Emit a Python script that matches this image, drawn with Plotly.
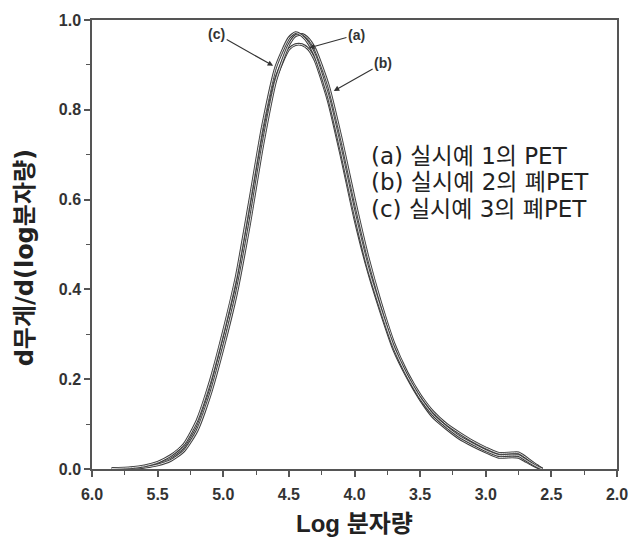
import plotly.graph_objects as go

# Log molecular weight grid
log_mw = [5.85, 5.7, 5.6, 5.5, 5.4, 5.3, 5.2, 5.1, 5.0, 4.9, 4.8, 4.7, 4.6, 4.5,
          4.45, 4.4, 4.35, 4.3, 4.2, 4.1, 4.0, 3.9, 3.8, 3.7, 3.6, 3.5, 3.4, 3.3,
          3.2, 3.1, 3.0, 2.9, 2.8, 2.75, 2.7, 2.65, 2.6, 2.57]

curve_a = [0.0, 0.002, 0.005, 0.011, 0.022, 0.044, 0.092, 0.175, 0.285, 0.405, 0.565,
           0.735, 0.87, 0.935, 0.945, 0.945, 0.935, 0.91, 0.82, 0.695, 0.56, 0.445,
           0.35, 0.265, 0.205, 0.155, 0.115, 0.09, 0.068, 0.052, 0.038, 0.026, 0.027,
           0.026, 0.018, 0.01, 0.003, 0.0]

curve_b = [0.0, 0.001, 0.004, 0.009, 0.019, 0.04, 0.085, 0.165, 0.27, 0.39, 0.545,
           0.72, 0.865, 0.945, 0.965, 0.968, 0.958, 0.935, 0.855, 0.735, 0.6, 0.475,
           0.37, 0.28, 0.215, 0.165, 0.127, 0.1, 0.08, 0.062, 0.047, 0.035, 0.036,
           0.036, 0.027, 0.016, 0.006, 0.0]

curve_c = [0.001, 0.003, 0.007, 0.015, 0.03, 0.055, 0.108, 0.195, 0.305, 0.43, 0.595,
           0.765, 0.895, 0.96, 0.972, 0.965, 0.948, 0.92, 0.83, 0.705, 0.57, 0.45,
           0.355, 0.27, 0.208, 0.158, 0.12, 0.094, 0.072, 0.056, 0.041, 0.03, 0.031,
           0.03, 0.021, 0.012, 0.004, 0.0]

legend_lines = ["(a) 실시예 1의 PET", "(b) 실시예 2의 폐PET", "(c) 실시예 3의 폐PET"]
x_title = "Log 분자량"
y_title = "d무게/d(log분자량)"

FONT = "Liberation Sans, Arial, Noto Sans CJK KR, sans-serif"
WIDE = "DejaVu Sans, Noto Sans CJK KR, sans-serif"

fig = go.Figure()
for ys in (curve_a, curve_b, curve_c):
    fig.add_trace(go.Scatter(x=log_mw, y=ys, mode="lines",
                             line=dict(color="#3c3c3c", width=2.8, shape="spline", smoothing=0.6),
                             showlegend=False, hoverinfo="skip"))
    fig.add_trace(go.Scatter(x=log_mw, y=ys, mode="lines",
                             line=dict(color="#f2f2f2", width=0.9, shape="spline", smoothing=0.6),
                             showlegend=False, hoverinfo="skip"))

# legend text block
for i, t in enumerate(legend_lines):
    fig.add_annotation(xref="paper", yref="paper", x=(373 - 92) / 532,
                       y=(469 - (155 + i * 26.5)) / 450, xanchor="left", yanchor="middle",
                       text=t, showarrow=False,
                       font=dict(family=WIDE, size=23, color="#222"))

# arrow labels
arrows = [("(c)", 5.05, 0.969, 4.62, 0.898),
          ("(a)", 3.985, 0.967, 4.346, 0.938),
          ("(b)", 3.782, 0.904, 4.158, 0.842)]
for t, tx, ty, hx, hy in arrows:
    fig.add_annotation(x=hx, y=hy, ax=tx, ay=ty, xref="x", yref="y", axref="x", ayref="y",
                       text=t, showarrow=True, arrowhead=2, arrowsize=1, arrowwidth=1.1,
                       arrowcolor="#333", standoff=0,
                       font=dict(family=FONT, size=14, color="#333", weight="bold"))

# y-axis title (placed as rotated text to match reference position)
fig.add_annotation(xref="paper", yref="paper", x=(25 - 92) / 532, y=(469 - 257) / 450,
                   xanchor="center", yanchor="middle", textangle=-90, showarrow=False,
                   text=y_title,
                   font=dict(family=WIDE, size=24, color="#222", weight="bold"))

axis_common = dict(showline=True, mirror=True, linecolor="#555", linewidth=1.5,
                   ticks="outside", ticklen=6, tickwidth=1.5, tickcolor="#555",
                   showgrid=False, zeroline=False,
                   tickfont=dict(family=FONT, size=16, color="#333", weight="bold"))

fig.update_xaxes(range=[6.0, 2.0], dtick=0.5, tick0=2.0, tickformat=".1f",
                 ticklabelstandoff=4,
                 minor=dict(dtick=0.25, ticks="outside", ticklen=4, tickcolor="#555", tickwidth=1.2),
                 title=dict(text=x_title, standoff=13,
                            font=dict(family=FONT, size=24, color="#222", weight="bold")),
                 **axis_common)
fig.update_yaxes(range=[0, 1.0], dtick=0.2, tick0=0, tickformat=".1f",
                 minor=dict(dtick=0.1, ticks="outside", ticklen=4, tickcolor="#555", tickwidth=1.2),
                 **axis_common)

fig.update_layout(width=640, height=556, margin=dict(l=92, r=16, t=19, b=87),
                  plot_bgcolor="white", paper_bgcolor="white")

fig.write_html("out.html", config={"displayModeBar": False},
               post_script="document.body.style.margin='0';")
